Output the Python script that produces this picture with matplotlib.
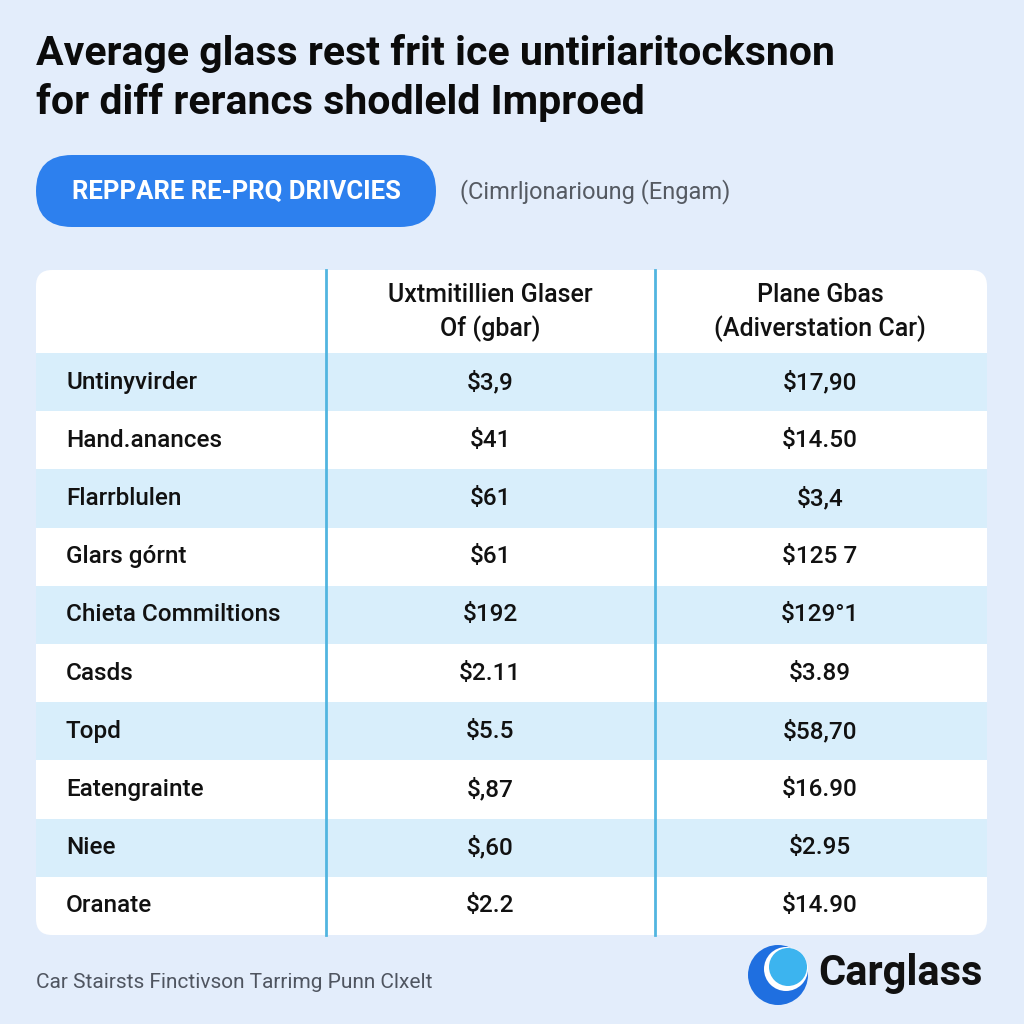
import matplotlib.pyplot as plt
from matplotlib.patches import FancyBboxPatch, Rectangle, Circle

# Table content
row_labels = ["Untinyvirder", "Hand.anances", "Flarrblulen", "Glars górnt", "Chieta Commiltions",
              "Casds", "Topd", "Eatengrainte", "Niee", "Oranate"]
col1_values = ["$3,9", "$41", "$61", "$61", "$192", "$2.11", "$5.5", "$,87", "$,60", "$2.2"]
col2_values = ["$17,90", "$14.50", "$3,4", "$125 7", "$129°1", "$3.89", "$58,70", "$16.90", "$2.95", "$14.90"]
col_headers = ["Uxtmitillien Glaser\nOf (gbar)", "Plane Gbas\n(Adiverstation Car)"]

title = "Average glass rest frit ice untiriaritocksnon\nfor diff rerancs shodleld Improed"
badge_text = "REPPARE RE-PRQ DRIVCIES"
subtitle = "(Cimrljonarioung (Engam)"
footer = "Car Stairsts Finctivson Tarrimg Punn Clxelt"
brand = "Carglass"

font = "Roboto"
bg = "#e3edfb"
blue_row = "#d8eefb"
line_col = "#52b5e0"

fig = plt.figure(figsize=(10.24, 10.24), dpi=100, facecolor=bg)
ax = fig.add_axes([0, 0, 1, 1])
ax.set_xlim(0, 1024)
ax.set_ylim(1024, 0)
ax.axis("off")

# title
ax.text(36, 78, title, fontsize=29.5, fontweight="bold", family=font, color="#0b0b0b",
        va="center", ha="left", linespacing=1.3)

# badge
ax.add_patch(FancyBboxPatch((36, 155), 400, 72, boxstyle="round,pad=0,rounding_size=36",
                            facecolor="#2d80ee", edgecolor="none"))
ax.text(236, 192, badge_text, fontsize=18.5, fontweight="bold", family=font, color="white",
        ha="center", va="center")
ax.text(460, 192, subtitle, fontsize=17, family=font, color="#555a62", ha="left", va="center")

# table
top, bottom, left, right = 270, 935, 36, 987
header_h = 83
n = len(row_labels)
row_h = (bottom - top - header_h) / n
ax.add_patch(FancyBboxPatch((left, top), right - left, bottom - top,
                            boxstyle="round,pad=0,rounding_size=16", facecolor="white", edgecolor="none"))
for i in range(n):
    y0 = top + header_h + i * row_h
    if i % 2 == 0:
        ax.add_patch(Rectangle((left, y0), right - left, row_h, facecolor=blue_row, edgecolor="none"))
    yc = y0 + row_h / 2
    ax.text(66, yc, row_labels[i], fontsize=17.5, fontweight="medium", family=font, color="#111",
            ha="left", va="center")
    ax.text(490, yc, col1_values[i], fontsize=17.5, fontweight="medium", family=font, color="#111",
            ha="center", va="center")
    ax.text(820, yc, col2_values[i], fontsize=17.5, fontweight="medium", family=font, color="#111",
            ha="center", va="center")

for x in (326, 655):
    ax.plot([x, x], [top, bottom], color=line_col, lw=2)

for x, h in zip((490, 820), col_headers):
    ax.text(x, top + header_h / 2 + 1, h, fontsize=18, fontweight="medium", family=font, color="#111",
            ha="center", va="center", linespacing=1.4)

# footer
ax.text(36, 982, footer, fontsize=15, family=font, color="#4f5560", ha="left", va="center")

# logo
ax.add_patch(Circle((778, 975), 30, facecolor="#1f6fe0", edgecolor="none"))
ax.add_patch(Circle((786, 969), 22, facecolor="white", edgecolor="none"))
ax.add_patch(Circle((788, 967), 19, facecolor="#3cb4ef", edgecolor="none"))
ax.text(818, 973, brand, fontsize=30, fontweight="bold", family=font, color="#111",
        ha="left", va="center")

fig.savefig("out.png", dpi=100, facecolor=bg)
